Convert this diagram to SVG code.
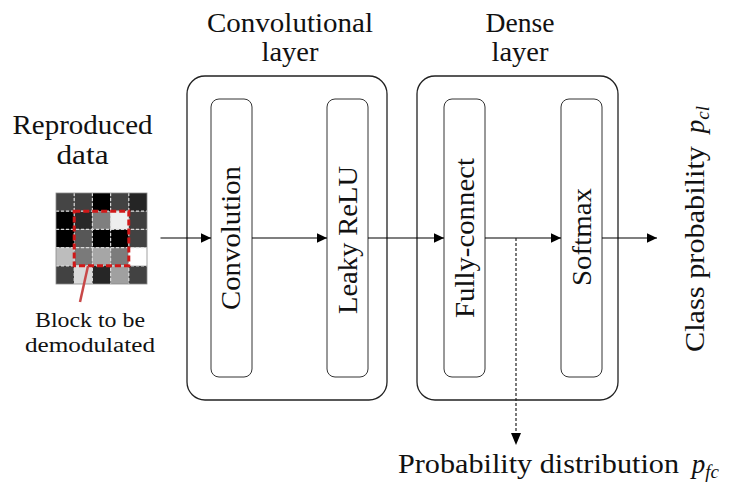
<svg xmlns="http://www.w3.org/2000/svg" width="729" height="489" viewBox="0 0 729 489">
  <defs>
    <marker id="arrow" markerUnits="userSpaceOnUse" markerWidth="11" markerHeight="10" refX="10.5" refY="5" orient="auto">
      <path d="M0,0 L10.5,5 L0,10 Z" fill="#000"/>
    </marker>
  </defs>
  <style>
    .lbl { font-size: 27px; fill: #111; }
    .small { font-size: 20px; }
    .it { font-style: italic; }
    .outer { fill: none; stroke: #222; stroke-width: 1.3; }
    .inner { fill: #fff; stroke: #333; stroke-width: 1; }
    .flow { stroke: #000; stroke-width: 1.2; fill: none; }
    .tap { stroke: #222; stroke-width: 1.2; stroke-dasharray: 3 2; fill: none; }
    .cellgrid { stroke: #d9d9d9; stroke-width: 1.2; stroke-dasharray: 3 2; fill: none; }
  </style>

  <rect width="729" height="489" fill="#fff"/>

  <!-- input data: 5x5 grey-level block -->
  <g id="input-data">
    <text class="lbl" font-family="Liberation Serif, serif" x="82.5" y="134" text-anchor="middle" textLength="140" lengthAdjust="spacingAndGlyphs">Reproduced</text>
    <text class="lbl" font-family="Liberation Serif, serif" x="82.5" y="164" text-anchor="middle" textLength="52" lengthAdjust="spacingAndGlyphs">data</text>
    <g transform="translate(56,193)">
      <rect x="0" y="0" width="18.2" height="18.2" fill="#454545"/>
      <rect x="18.2" y="0" width="18.2" height="18.2" fill="#404040"/>
      <rect x="36.4" y="0" width="18.2" height="18.2" fill="#000"/>
      <rect x="54.6" y="0" width="18.2" height="18.2" fill="#424242"/>
      <rect x="72.8" y="0" width="18.2" height="18.2" fill="#252525"/>

      <rect x="0" y="18.2" width="18.2" height="18.2" fill="#000"/>
      <rect x="18.2" y="18.2" width="18.2" height="18.2" fill="#282828"/>
      <rect x="36.4" y="18.2" width="18.2" height="18.2" fill="#7f7f7f"/>
      <rect x="54.6" y="18.2" width="18.2" height="18.2" fill="#eeeeee"/>
      <rect x="72.8" y="18.2" width="18.2" height="18.2" fill="#3f3f3f"/>

      <rect x="0" y="36.4" width="18.2" height="18.2" fill="#000"/>
      <rect x="18.2" y="36.4" width="18.2" height="18.2" fill="#575757"/>
      <rect x="36.4" y="36.4" width="18.2" height="18.2" fill="#000"/>
      <rect x="54.6" y="36.4" width="18.2" height="18.2" fill="#000"/>
      <rect x="72.8" y="36.4" width="18.2" height="18.2" fill="#424242"/>

      <rect x="0" y="54.6" width="18.2" height="18.2" fill="#bdbdbd"/>
      <rect x="18.2" y="54.6" width="18.2" height="18.2" fill="#7a7a7a"/>
      <rect x="36.4" y="54.6" width="18.2" height="18.2" fill="#a6a6a6"/>
      <rect x="54.6" y="54.6" width="18.2" height="18.2" fill="#7c7c7c"/>
      <rect x="72.8" y="54.6" width="18.2" height="18.2" fill="#fff"/>

      <rect x="0" y="72.8" width="18.2" height="18.2" fill="#424242"/>
      <rect x="18.2" y="72.8" width="18.2" height="18.2" fill="#dadada"/>
      <rect x="36.4" y="72.8" width="18.2" height="18.2" fill="#262626"/>
      <rect x="54.6" y="72.8" width="18.2" height="18.2" fill="#a0a0a0"/>
      <rect x="72.8" y="72.8" width="18.2" height="18.2" fill="#424242"/>

      <path class="cellgrid" d="M0,18.2 H91 M0,36.4 H91 M0,54.6 H91 M0,72.8 H91 M18.2,0 V91 M36.4,0 V91 M54.6,0 V91 M72.8,0 V91"/>
      <rect x="0" y="0" width="91" height="91" fill="none" stroke="#8a8a8a" stroke-width="0.8"/>
    </g>
    <!-- highlighted 3x3 block -->
    <rect x="74.2" y="211.2" width="54.6" height="54.6" fill="none" stroke="#d01818" stroke-width="3" stroke-dasharray="6 3"/>
    <line x1="88" y1="266" x2="80" y2="302" stroke="#c84848" stroke-width="2.5"/>
    <text class="lbl small" font-family="Liberation Serif, serif" x="90" y="327" text-anchor="middle" textLength="110" lengthAdjust="spacingAndGlyphs">Block to be</text>
    <text class="lbl small" font-family="Liberation Serif, serif" x="90" y="352" text-anchor="middle" textLength="130" lengthAdjust="spacingAndGlyphs">demodulated</text>
  </g>

  <!-- convolutional layer -->
  <g id="conv-layer">
    <text class="lbl" font-family="Liberation Serif, serif" x="290" y="32" text-anchor="middle" textLength="166" lengthAdjust="spacingAndGlyphs">Convolutional</text>
    <text class="lbl" font-family="Liberation Serif, serif" x="290" y="61" text-anchor="middle" textLength="57" lengthAdjust="spacingAndGlyphs">layer</text>
    <rect class="outer" x="187" y="76" width="200" height="324" rx="18"/>
  </g>
  <g id="convolution">
    <rect class="inner" x="211" y="99" width="41" height="278" rx="8"/>
    <text class="lbl" font-family="Liberation Serif, serif" transform="translate(240,238) rotate(-90)" text-anchor="middle" textLength="144" lengthAdjust="spacingAndGlyphs">Convolution</text>
  </g>
  <g id="leaky-relu">
    <rect class="inner" x="327" y="99" width="41" height="278" rx="8"/>
    <text class="lbl" font-family="Liberation Serif, serif" transform="translate(357,240) rotate(-90)" text-anchor="middle" textLength="148" lengthAdjust="spacingAndGlyphs">Leaky ReLU</text>
  </g>

  <!-- dense layer -->
  <g id="dense-layer">
    <text class="lbl" font-family="Liberation Serif, serif" x="520" y="32" text-anchor="middle" textLength="69" lengthAdjust="spacingAndGlyphs">Dense</text>
    <text class="lbl" font-family="Liberation Serif, serif" x="520" y="61" text-anchor="middle" textLength="57" lengthAdjust="spacingAndGlyphs">layer</text>
    <rect class="outer" x="417" y="76" width="201" height="324" rx="18"/>
  </g>
  <g id="fully-connect">
    <rect class="inner" x="444" y="99" width="41" height="278" rx="8"/>
    <text class="lbl" font-family="Liberation Serif, serif" transform="translate(474,238) rotate(-90)" text-anchor="middle" textLength="160" lengthAdjust="spacingAndGlyphs">Fully-connect</text>
  </g>
  <g id="softmax">
    <rect class="inner" x="561" y="99" width="41" height="278" rx="8"/>
    <text class="lbl" font-family="Liberation Serif, serif" transform="translate(591,237) rotate(-90)" text-anchor="middle" textLength="98" lengthAdjust="spacingAndGlyphs">Softmax</text>
  </g>

  <!-- outputs -->
  <g id="class-probability">
    <text class="lbl" font-family="Liberation Serif, serif" transform="translate(704,352) rotate(-90)">
      <tspan textLength="206" lengthAdjust="spacingAndGlyphs">Class probability</tspan>
      <tspan class="it" dx="6">p</tspan><tspan class="it" font-size="19" dy="5">cl</tspan>
    </text>
  </g>
  <g id="probability-distribution">
    <text class="lbl" font-family="Liberation Serif, serif" x="398" y="473">
      <tspan textLength="281" lengthAdjust="spacingAndGlyphs">Probability distribution</tspan>
      <tspan class="it" dx="6">p</tspan><tspan class="it" font-size="19" dy="5">fc</tspan>
    </text>
  </g>

  <!-- connectors -->
  <g id="connectors">
    <line class="flow" x1="160.5" y1="238" x2="211" y2="238" marker-end="url(#arrow)"/>
    <line class="flow" x1="252" y1="238" x2="327" y2="238" marker-end="url(#arrow)"/>
    <line class="flow" x1="368" y1="238" x2="444" y2="238" marker-end="url(#arrow)"/>
    <line class="flow" x1="485" y1="238" x2="561" y2="238" marker-end="url(#arrow)"/>
    <line class="flow" x1="602" y1="238" x2="657" y2="238" marker-end="url(#arrow)"/>
    <line class="tap" x1="516" y1="238" x2="516" y2="434"/>
    <path d="M511,433 L521,433 L516,445 Z" fill="#000"/>
  </g>
</svg>
